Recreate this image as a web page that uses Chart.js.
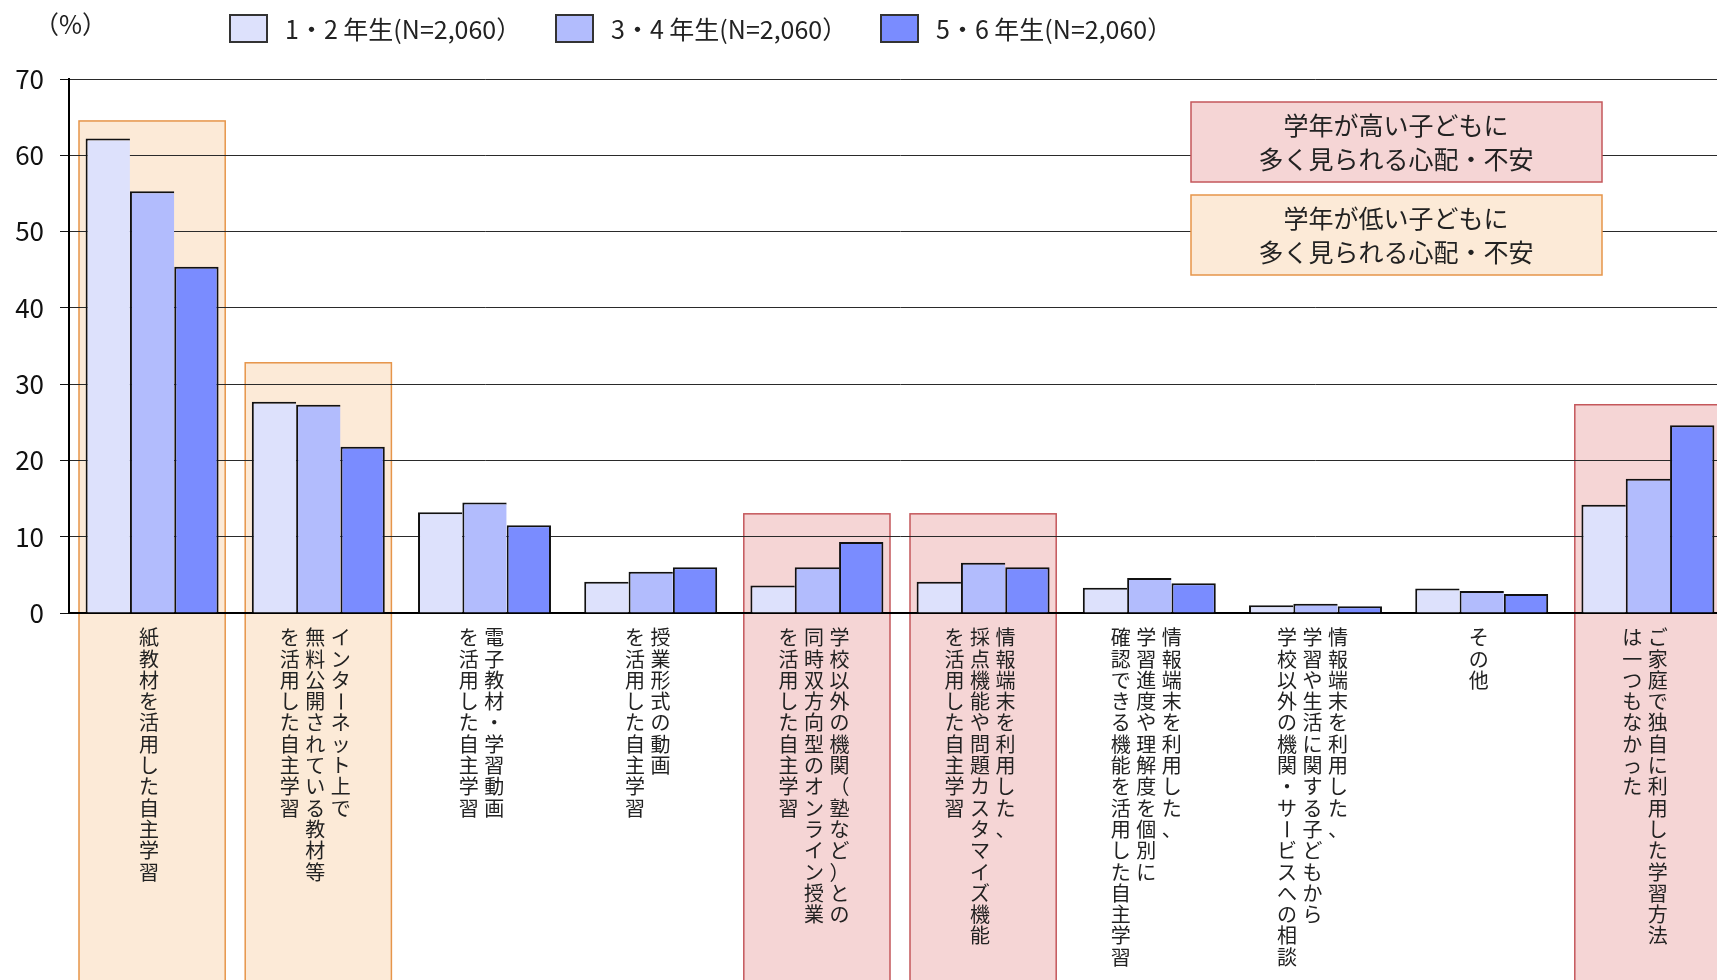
<!DOCTYPE html>
<html>
<head>
<meta charset="utf-8">
<script src="https://cdn.jsdelivr.net/npm/chart.js"></script>
<style>
html, body { margin: 0; padding: 0; overflow: hidden; background: #fff; }
#wrap { position: relative; width: 1731px; height: 980px; }
</style>
</head>
<body>
<div id="wrap"><canvas id="myChart"></canvas></div>
<script>
// categories (each inner array = one vertical column, read right to left)
var categories = [
  ["紙教材を活用した自主学習"],
  ["インターネット上で", "無料公開されている教材等", "を活用した自主学習"],
  ["電子教材・学習動画", "を活用した自主学習"],
  ["授業形式の動画", "を活用した自主学習"],
  ["学校以外の機関（塾など）との", "同時双方向型のオンライン授業", "を活用した自主学習"],
  ["情報端末を利用した、", "採点機能や問題カスタマイズ機能", "を活用した自主学習"],
  ["情報端末を利用した、", "学習進度や理解度を個別に", "確認できる機能を活用した自主学習"],
  ["情報端末を利用した、", "学習や生活に関する子どもから", "学校以外の機関・サービスへの相談"],
  ["その他"],
  ["ご家庭で独自に利用した学習方法", "は一つもなかった"]
];
var seriesNames = ["1・2 年生(N=2,060）", "3・4 年生(N=2,060）", "5・6 年生(N=2,060）"];
var grade12 = [62.2, 27.7, 13.2, 4.1, 3.6, 4.1, 3.3, 1.0, 3.2, 14.2];
var grade34 = [55.3, 27.3, 14.5, 5.4, 6.0, 6.6, 4.6, 1.2, 2.9, 17.6];
var grade56 = [45.4, 21.8, 11.5, 6.0, 9.3, 6.0, 3.9, 0.9, 2.5, 24.6];
var yTicks = [0, 10, 20, 30, 40, 50, 60, 70];

// highlighted categories and top of their shaded box (%)
var lowGradeIdx = [0, 1];
var lowGradeTop = [64.5, 32.8];
var highGradeIdx = [4, 5, 9];
var highGradeTop = [13.0, 13.0, 27.3];
var noteHigh = ["学年が高い子どもに", "多く見られる心配・不安"];
var noteLow = ["学年が低い子どもに", "多く見られる心配・不安"];
var unitLabel = "（%）";

var FONT = "'Noto Sans CJK JP', 'Noto Sans', sans-serif";
Chart.defaults.font.family = FONT;

var barColors = ["#DDE1FC", "#B2BCFD", "#7A8CFF"];
var LOW_FILL = "#FCEAD7", LOW_LINE = "#E6954A";
var HIGH_FILL = "#F5D5D5", HIGH_LINE = "#C4575B";

// shaded boxes behind the groups (drawn before grid and bars)
var bgBoxes = {
  id: 'bgBoxes',
  beforeDraw: function (chart) {
    var c = chart.ctx, x = chart.scales.x, y = chart.scales.y;
    var half = (x.getPixelForValue(1) - x.getPixelForValue(0)) / 2 - 10;
    function box(idx, tops, fill, line) {
      idx.forEach(function (k, i) {
        var cx = x.getPixelForValue(k);
        var top = y.getPixelForValue(tops[i]);
        c.save();
        c.fillStyle = fill;
        c.fillRect(cx - half, top, half * 2, chart.height - top + 5);
        c.strokeStyle = line;
        c.lineWidth = 1.5;
        c.strokeRect(cx - half, top, half * 2, chart.height - top + 5);
        c.restore();
      });
    }
    box(lowGradeIdx, lowGradeTop, LOW_FILL, LOW_LINE);
    box(highGradeIdx, highGradeTop, HIGH_FILL, HIGH_LINE);
  }
};

// vertical labels, legend, notes
var texts = {
  id: 'texts',
  afterDraw: function (chart) {
    var c = chart.ctx, x = chart.scales.x;
    c.save();
    c.fillStyle = "#222";
    c.textAlign = "center";
    c.textBaseline = "middle";
    c.font = "20px " + FONT;
    var colGap = 25.5, pitch = 21.3, top = 627;
    categories.forEach(function (lines, k) {
      var cx = x.getPixelForValue(k) - 3;
      var n = lines.length;
      lines.forEach(function (line, i) {
        var lx = cx + ((n - 1) / 2 - i) * colGap;
        Array.from(line).forEach(function (ch, j) {
          var ly = top + j * pitch + pitch / 2;
          c.save();
          c.translate(lx, ly);
          if (ch === "ー") c.rotate(Math.PI / 2);
          c.fillText(ch, 0, 0);
          c.restore();
        });
      });
    });

    // unit
    c.textAlign = "left";
    c.font = "25px " + FONT;
    c.fillText(unitLabel, 34, 24);

    // legend
    c.font = "25px " + FONT;
    var legendX = [230, 556, 881];
    chart.data.datasets.forEach(function (ds, i) {
      var lx = legendX[i];
      c.fillStyle = ds.backgroundColor;
      c.fillRect(lx, 15, 37, 27);
      c.strokeStyle = "#333";
      c.lineWidth = 2;
      c.strokeRect(lx, 15, 37, 27);
      c.fillStyle = "#222";
      c.fillText(ds.label, lx + 55, 29);
    });

    // notes
    function note(lines, y0, fill, line) {
      c.fillStyle = fill;
      c.fillRect(1191, y0, 411, 80);
      c.strokeStyle = line;
      c.lineWidth = 1.5;
      c.strokeRect(1191, y0, 411, 80);
      c.fillStyle = "#222";
      c.textAlign = "center";
      c.font = "25px " + FONT;
      c.fillText(lines[0], 1396, y0 + 23);
      c.fillText(lines[1], 1396, y0 + 57);
    }
    note(noteHigh, 102, HIGH_FILL, HIGH_LINE);
    note(noteLow, 195, LOW_FILL, LOW_LINE);
    c.restore();
  }
};

function bw(last) {
  return { top: 2, left: 2, right: last ? 2 : 0, bottom: 0 };
}

var ctx = document.getElementById('myChart').getContext('2d');
var myChart = new Chart(ctx, {
  type: 'bar',
  data: {
    labels: categories.map(function (c) { return c.join(''); }),
    datasets: [
      { label: seriesNames[0], data: grade12, backgroundColor: barColors[0], borderColor: "#111", borderWidth: bw(false), borderSkipped: false },
      { label: seriesNames[1], data: grade34, backgroundColor: barColors[1], borderColor: "#111", borderWidth: bw(false), borderSkipped: false },
      { label: seriesNames[2], data: grade56, backgroundColor: barColors[2], borderColor: "#111", borderWidth: bw(true), borderSkipped: false }
    ]
  },
  options: {
    responsive: true,
    maintainAspectRatio: false,
    animation: false,
    layout: { padding: { top: 79, bottom: 367, left: 0, right: 0 } },
    datasets: { bar: { categoryPercentage: 0.8, barPercentage: 1 } },
    plugins: { legend: { display: false }, tooltip: { enabled: false } },
    scales: {
      x: {
        grid: { display: false, drawTicks: false },
        ticks: { display: false },
        border: { color: "#000", width: 2 },
        afterFit: function (s) { s.height = 0; }
      },
      y: {
        min: 0,
        max: 70,
        afterBuildTicks: function (s) { s.ticks = yTicks.map(function (v) { return { value: v }; }); },
        ticks: { color: "#111", padding: 16, font: { size: 26 } },
        grid: { color: "#2a2a2a", lineWidth: 1, tickLength: 9, tickColor: "#111" },
        border: { color: "#000", width: 2 },
        afterFit: function (s) { s.width = 69; }
      }
    }
  },
  plugins: [bgBoxes, texts]
});
</script>
</body>
</html>
